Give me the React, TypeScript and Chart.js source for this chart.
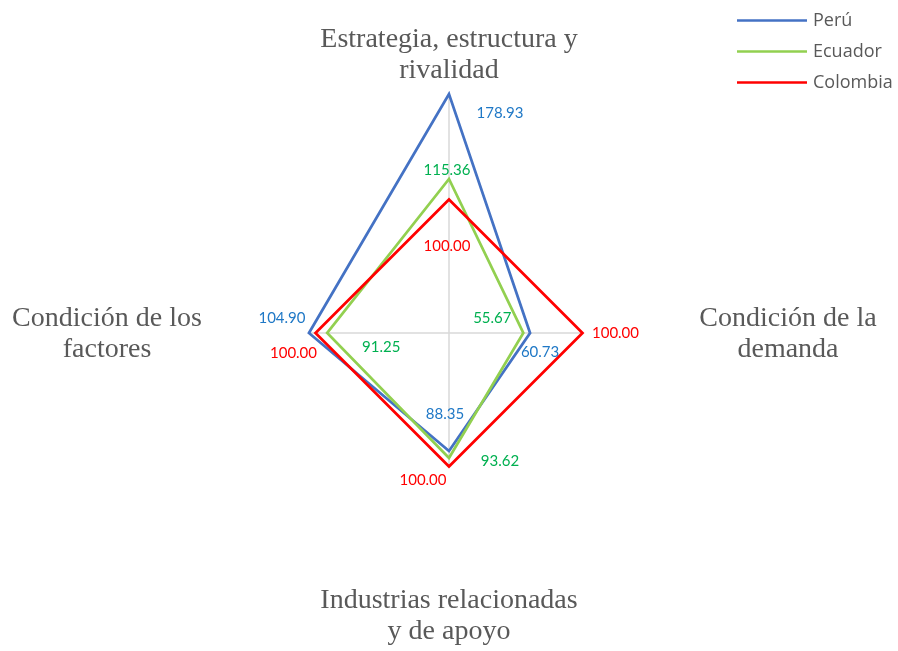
import React, { useEffect, useRef } from "react";
import { Chart, registerables } from "chart.js";

Chart.register(...registerables);

const categories: string[][] = [
  ["Estrategia, estructura y", "rivalidad"],
  ["Condición de la", "demanda"],
  ["Industrias relacionadas", "y de apoyo"],
  ["Condición de los", "factores"],
];
const seriesNames = ["Perú", "Ecuador", "Colombia"];
const peru = [178.93, 60.73, 88.35, 104.9];
const ecuador = [115.36, 55.67, 93.62, 91.25];
const colombia = [100.0, 100.0, 100.0, 100.0];

// styling
const lineColors = ["#4472C4", "#92D050", "#FF0000"];
const labelColors = ["#1F78C6", "#00B050", "#FF0000"];
// pixel offsets of the value labels from their points (style only)
const labelOffsets: number[][][] = [
  [[51, 19], [10, 19], [-4, -37], [-27, -15]],
  [[-2, -9], [-31, -15], [51, 3], [54, 14]],
  [[-2, 47], [33, 0], [-26, 14], [-22, 20]],
];
// where the axis titles sit, relative to centre (style only)
const titleOffsets: number[][] = [
  [0, -278],
  [339, 1],
  [0, 283],
  [-342, 1],
];

const overlayPlugin = {
  id: "overlay",
  beforeDatasetsDraw(chart: any) {
    const ctx = chart.ctx;
    const r = chart.scales.r;
    const all = chart.data.datasets.map((d: any) => d.data as number[]);
    ctx.save();
    ctx.strokeStyle = "#D9D9D9";
    ctx.lineWidth = 1.5;
    for (let i = 0; i < categories.length; i++) {
      const m = Math.max(...all.map((a: number[]) => a[i]));
      const p = r.getPointPositionForValue(i, m);
      ctx.beginPath();
      ctx.moveTo(r.xCenter, r.yCenter);
      ctx.lineTo(p.x, p.y);
      ctx.stroke();
    }
    ctx.restore();
  },
  afterDatasetsDraw(chart: any) {
    const ctx = chart.ctx;
    const r = chart.scales.r;
    ctx.save();
    // value labels
    ctx.font = "15px Lato";
    ctx.textAlign = "center";
    ctx.textBaseline = "middle";
    chart.data.datasets.forEach((ds: any, di: number) => {
      const meta = chart.getDatasetMeta(di);
      meta.data.forEach((pt: any, i: number) => {
        const v = ds.data[i] as number;
        ctx.fillStyle = labelColors[di];
        ctx.fillText(v.toFixed(2), pt.x + labelOffsets[di][i][0], pt.y + labelOffsets[di][i][1]);
      });
    });
    // axis titles
    ctx.font = "28px 'Liberation Serif'";
    ctx.fillStyle = "#595959";
    categories.forEach((lines, i) => {
      const cx = r.xCenter + titleOffsets[i][0];
      const cy = r.yCenter + titleOffsets[i][1];
      const lh = 31;
      lines.forEach((t, k) => {
        ctx.fillText(t, cx, cy + (k - (lines.length - 1) / 2) * lh);
      });
    });
    // legend
    ctx.font = "18px 'Open Sans'";
    ctx.textAlign = "left";
    seriesNames.forEach((n, k) => {
      const y = 20.5 + k * 31;
      ctx.strokeStyle = lineColors[k];
      ctx.lineWidth = 2.5;
      ctx.beginPath();
      ctx.moveTo(737, y);
      ctx.lineTo(807, y);
      ctx.stroke();
      ctx.fillStyle = "#595959";
      ctx.fillText(n, 813, y);
    });
    ctx.restore();
  },
};

export default function App() {
  const ref = useRef<HTMLCanvasElement | null>(null);
  useEffect(() => {
    if (!ref.current) return;
    const series = [peru, ecuador, colombia];
    const chart = new Chart(ref.current, {
      type: "radar",
      data: {
        labels: categories.map((c) => c.join(" ")),
        datasets: series.map((s, k) => ({
          label: seriesNames[k],
          data: s,
          borderColor: lineColors[k],
          backgroundColor: "transparent",
          borderWidth: 2.75,
          pointRadius: 0,
          pointHoverRadius: 0,
          fill: false,
          tension: 0,
          borderJoinStyle: "miter" as const,
          order: 2 - k,
        })),
      },
      options: {
        responsive: false,
        animation: false,
        layout: { padding: { top: 66, bottom: 51, left: 0, right: 0 } },
        plugins: { legend: { display: false }, tooltip: { enabled: false } },
        scales: {
          r: {
            min: 0,
            max: 200,
            ticks: { display: false },
            grid: { display: false },
            angleLines: { display: false },
            pointLabels: { display: false },
          },
        },
      },
      plugins: [overlayPlugin],
    });
    return () => chart.destroy();
  }, []);
  return (
    <div style={{ position: "fixed", left: 0, top: 0, width: 898, height: 651, background: "#fff" }}>
      <canvas ref={ref} width={898} height={651} style={{ display: "block" }} />
    </div>
  );
}
